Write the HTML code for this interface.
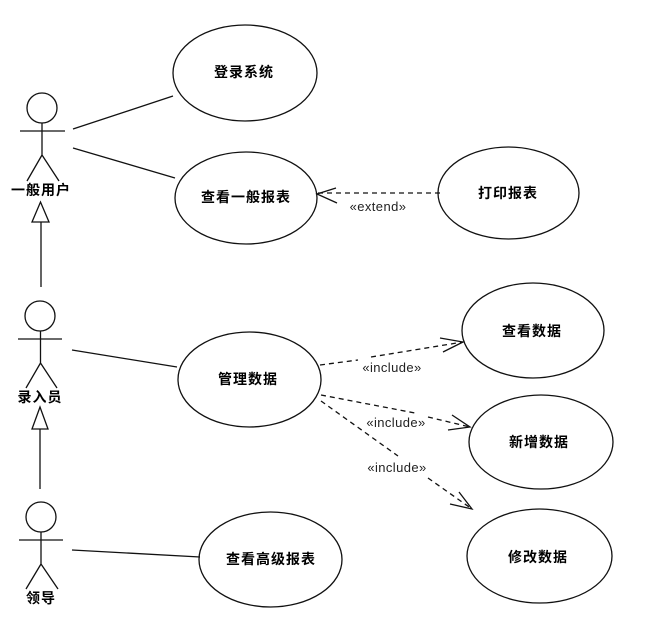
<!DOCTYPE html>
<html><head><meta charset="utf-8"><style>
html,body{margin:0;padding:0;background:#fff;width:654px;height:620px;overflow:hidden}
svg{display:block;filter:blur(.3px)}
.c{font-family:"Liberation Sans","Noto Sans CJK SC",sans-serif;font-size:14px;letter-spacing:1px;font-weight:700;fill:#000;text-anchor:middle}
.l{font-family:"Liberation Sans",sans-serif;font-size:13px;letter-spacing:.4px;fill:#222;text-anchor:middle}
</style></head><body>
<svg width="654" height="620" viewBox="0 0 654 620" fill="none" stroke="#111" stroke-width="1.3">
<!-- ellipses -->
<ellipse cx="245" cy="73" rx="72" ry="48"/>
<ellipse cx="246" cy="198" rx="71" ry="46"/>
<ellipse cx="508.5" cy="193" rx="70.5" ry="46"/>
<ellipse cx="249.5" cy="379.5" rx="71.5" ry="47.5"/>
<ellipse cx="533" cy="330.5" rx="71" ry="47.5"/>
<ellipse cx="541" cy="442" rx="72" ry="47"/>
<ellipse cx="539.5" cy="556" rx="72.5" ry="47"/>
<ellipse cx="270.5" cy="559.5" rx="71.5" ry="47.5"/>
<!-- actor 1 -->
<circle cx="42" cy="108" r="15"/>
<path d="M42 123V155M20 131H65M42 155L27 181M42 155L59 181"/>
<!-- actor 2 -->
<circle cx="40" cy="316" r="15"/>
<path d="M40.5 331V363M18 339H62M40.5 363L26 388M40.5 363L57 388"/>
<!-- actor 3 -->
<circle cx="41" cy="517" r="15"/>
<path d="M41 532V564M19 540H63M41 564L26 589M41 564L58 589"/>
<!-- inherit -->
<path d="M41 287V222M32 222L40.5 202L49 222Z"/>
<path d="M40 489V429M32 429L40 407L48 429Z"/>
<!-- assoc -->
<path d="M73 129L173 96M73 148L175 178M72 350L177 367M72 550L200 557"/>
<!-- dashed -->
<g stroke-dasharray="5 4">
<path d="M440 193H318"/>
<path d="M320 365L358 360M371 357L463 342"/>
<path d="M321 395L415 413M428 417L470 427"/>
<path d="M321 401L398 456M428 478L472 509"/>
</g>
<path d="M336 188L317 194L337 203"/>
<path d="M440 338L463 342L443 352"/>
<path d="M452 415L470 427L448 430"/>
<path d="M459 492L472 509L450 504"/>
<!-- text -->
<g stroke="none">
<text class="c" x="244" y="77">登录系统</text>
<text class="c" x="246" y="202">查看一般报表</text>
<text class="c" x="508" y="198">打印报表</text>
<text class="c" x="248" y="384">管理数据</text>
<text class="c" x="532" y="336">查看数据</text>
<text class="c" x="539" y="447">新增数据</text>
<text class="c" x="538" y="562">修改数据</text>
<text class="c" x="271" y="564">查看高级报表</text>
<text class="c" x="41" y="195">一般用户</text>
<text class="c" x="40" y="402">录入员</text>
<text class="c" x="41" y="603">领导</text>
<text class="l" x="378" y="211">«extend»</text>
<text class="l" x="392" y="372">«include»</text>
<text class="l" x="396" y="427">«include»</text>
<text class="l" x="397" y="472">«include»</text>
</g>
</svg>
</body></html>
